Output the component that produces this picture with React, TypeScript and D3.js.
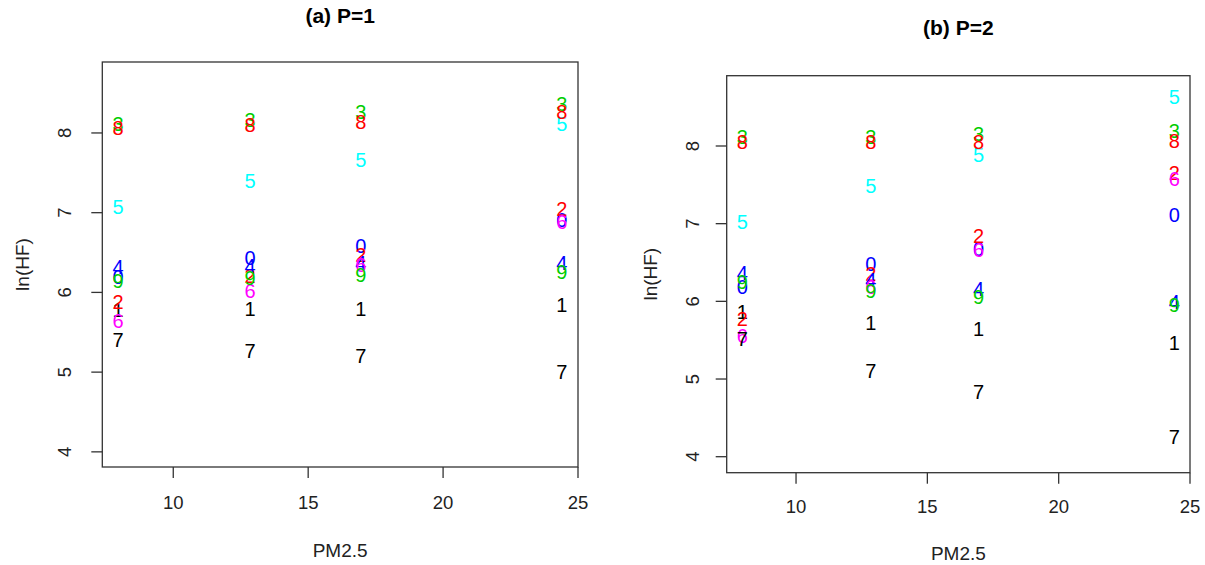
import React from "react";
import * as d3 from "d3";

// PM2.5 levels (x positions of the four columns)
const pm25 = [7.95, 12.85, 16.95, 24.4];
const digits = ["0", "1", "2", "3", "4", "5", "6", "7", "8", "9"];
const digitColors = ["#0000FF", "#000000", "#FF0000", "#00CD00", "#0000FF", "#00FFFF", "#FF00FF", "#000000", "#FF0000", "#00CD00"];

// Panel (a) P=1 : ln(HF) per digit series
const p1_0 = [6.2, 6.43, 6.59, 6.91];
const p1_1 = [5.78, 5.8, 5.8, 5.84];
const p1_2 = [5.88, 6.21, 6.47, 7.05];
const p1_3 = [8.12, 8.17, 8.27, 8.37];
const p1_4 = [6.32, 6.33, 6.37, 6.37];
const p1_5 = [7.08, 7.4, 7.66, 8.12];
const p1_6 = [5.64, 6.02, 6.34, 6.89];
const p1_7 = [5.41, 5.27, 5.21, 5.0];
const p1_8 = [8.06, 8.1, 8.14, 8.27];
const p1_9 = [6.15, 6.18, 6.22, 6.26];

// Panel (b) P=2
const p2_0 = [6.19, 6.48, 6.68, 7.11];
const p2_1 = [5.86, 5.72, 5.65, 5.46];
const p2_2 = [5.77, 6.36, 6.85, 7.65];
const p2_3 = [8.12, 8.12, 8.16, 8.2];
const p2_4 = [6.37, 6.28, 6.16, 6.0];
const p2_5 = [7.02, 7.49, 7.89, 8.63];
const p2_6 = [5.56, 6.19, 6.66, 7.58];
const p2_7 = [5.52, 5.11, 4.83, 4.26];
const p2_8 = [8.06, 8.06, 8.06, 8.07];
const p2_9 = [6.25, 6.13, 6.06, 5.96];

const xTicks = [10, 15, 20, 25];
const yTicks = [4, 5, 6, 7, 8];

const titles = ["(a) P=1", "(b) P=2"];
const xLabel = "PM2.5";
const yLabel = "ln(HF)";

const panels = [
  {
    title: titles[0],
    series: [p1_0, p1_1, p1_2, p1_3, p1_4, p1_5, p1_6, p1_7, p1_8, p1_9],
    box: { left: 102.3, right: 578, top: 62, bottom: 467 },
    xDomain: [7.37, 25.0],
    yDomain: [3.81, 8.89],
    titleY: 16,
    tickLabelY: 503,
    xLabelY: 550,
    yTickX: 65,
    yLabelX: 22,
  },
  {
    title: titles[1],
    series: [p2_0, p2_1, p2_2, p2_3, p2_4, p2_5, p2_6, p2_7, p2_8, p2_9],
    box: { left: 726.7, right: 1190, top: 75.7, bottom: 472.7 },
    xDomain: [7.36, 25.0],
    yDomain: [3.794, 8.905],
    titleY: 28,
    tickLabelY: 507,
    xLabelY: 553,
    yTickX: 693,
    yLabelX: 650,
  },
];

const FONT = "'Liberation Sans', Arial, sans-serif";
const AXIS = "#333";

function Panel({ p }: { p: (typeof panels)[number] }) {
  const { box } = p;
  const x = d3.scaleLinear().domain(p.xDomain).range([box.left, box.right]);
  const y = d3.scaleLinear().domain(p.yDomain).range([box.bottom, box.top]);
  const cx = (box.left + box.right) / 2;
  const cy = (box.top + box.bottom) / 2;
  return (
    <g>
      <text x={cx} y={p.titleY} dy="0.35em" textAnchor="middle" fontFamily={FONT} fontWeight="bold" fontSize={21} fill="#000">
        {p.title}
      </text>
      <rect x={box.left} y={box.top} width={box.right - box.left} height={box.bottom - box.top} fill="none" stroke={AXIS} strokeWidth={1.3} />
      {xTicks.map((t) => (
        <g key={"x" + t}>
          <line x1={x(t)} x2={x(t)} y1={box.bottom} y2={box.bottom + 11} stroke={AXIS} strokeWidth={1.3} />
          <text x={x(t)} y={p.tickLabelY} dy="0.35em" textAnchor="middle" fontFamily={FONT} fontSize={18.5} fill="#222">
            {t}
          </text>
        </g>
      ))}
      {yTicks.map((t) => (
        <g key={"y" + t}>
          <line x1={box.left - 11} x2={box.left} y1={y(t)} y2={y(t)} stroke={AXIS} strokeWidth={1.3} />
          <text
            transform={`translate(${p.yTickX},${y(t)}) rotate(-90)`}
            dy="0.35em"
            textAnchor="middle"
            fontFamily={FONT}
            fontSize={18.5}
            fill="#222"
          >
            {t}
          </text>
        </g>
      ))}
      <text x={cx} y={p.xLabelY} dy="0.35em" textAnchor="middle" fontFamily={FONT} fontSize={19} fill="#222">
        {xLabel}
      </text>
      <text transform={`translate(${p.yLabelX},${cy}) rotate(-90)`} dy="0.35em" textAnchor="middle" fontFamily={FONT} fontSize={19} fill="#222">
        {yLabel}
      </text>
      {p.series.map((vals, di) =>
        vals.map((v, i) => (
          <text
            key={di + "-" + i}
            x={x(pm25[i])}
            y={y(v)}
            dy="0.36em"
            textAnchor="middle"
            fontFamily={FONT}
            fontSize={20}
            fill={digitColors[di]}
          >
            {digits[di]}
          </text>
        ))
      )}
    </g>
  );
}

export default function App() {
  return (
    <svg width={1205} height={565} style={{ position: "absolute", left: 0, top: 0, background: "#fff" }}>
      <rect width={1205} height={565} fill="#fff" />
      {panels.map((p, i) => (
        <Panel key={i} p={p} />
      ))}
    </svg>
  );
}
